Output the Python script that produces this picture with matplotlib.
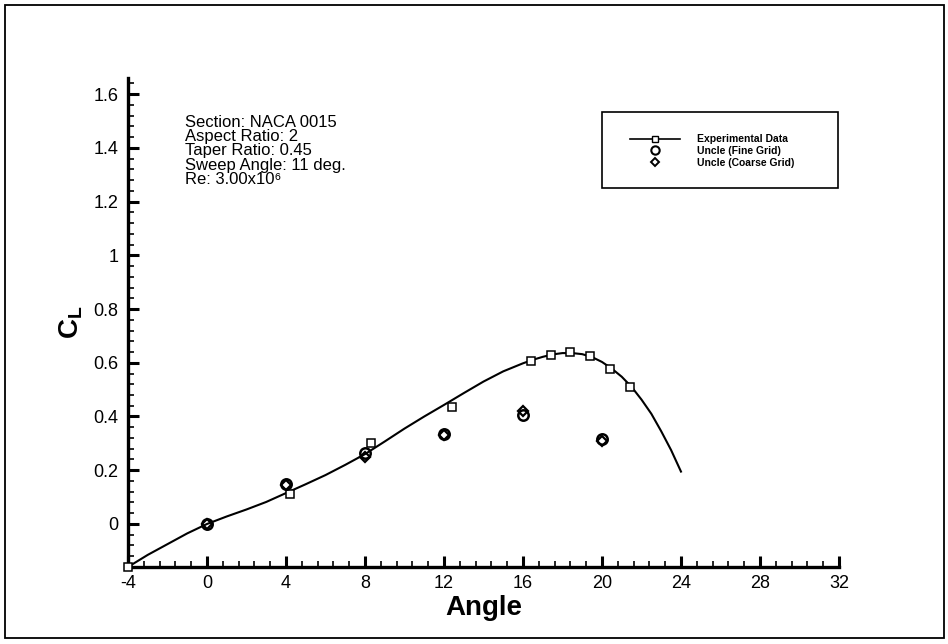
import numpy as np
import matplotlib.pyplot as plt
from matplotlib.patches import Rectangle
from matplotlib.ticker import MultipleLocator

plt.rcParams['font.family'] = ['Liberation Sans', 'DejaVu Sans']
plt.rcParams['mathtext.fontset'] = 'custom'
plt.rcParams['mathtext.rm'] = 'Liberation Sans'
plt.rcParams['mathtext.bf'] = 'Liberation Sans:bold'
plt.rcParams['axes.unicode_minus'] = False

# experimental points
exp_angle = [-4, 4.2, 8.3, 12.4, 16.4, 17.4, 18.4, 19.4, 20.4, 21.4]
exp_cl = [-0.16, 0.11, 0.30, 0.435, 0.605, 0.63, 0.64, 0.625, 0.575, 0.51]

# curve fit through the experiment
fit_angle = [-4, -3, -2, -1, 0, 1, 2, 3, 4, 5, 6, 7, 8, 9, 10, 11, 12,
             13, 14, 15, 16, 16.5, 17, 17.5, 18, 18.5, 19, 19.5, 20, 20.5,
             21, 21.5, 22, 22.5, 23, 23.5, 24]
fit_cl = [-0.16, -0.115, -0.075, -0.035, 0.0, 0.028, 0.054, 0.082, 0.115,
          0.148, 0.182, 0.22, 0.26, 0.307, 0.355, 0.40, 0.443, 0.487, 0.53,
          0.568, 0.598, 0.611, 0.622, 0.631, 0.636, 0.636, 0.632, 0.621,
          0.603, 0.578, 0.548, 0.51, 0.463, 0.41, 0.345, 0.275, 0.195]

# Uncle runs
cfd_angle = [0, 4, 8, 12, 16, 20]
fine_cl = [0.0, 0.15, 0.265, 0.335, 0.405, 0.315]
coarse_cl = [0.0, 0.145, 0.25, 0.33, 0.42, 0.31]

info_lines = ['Section: NACA 0015', 'Aspect Ratio: 2', 'Taper Ratio: 0.45',
              'Sweep Angle: 11 deg.', 'Re: 3.00x10\u2076']

fig = plt.figure(figsize=(9.48, 6.44), dpi=100)
ax = fig.add_axes([0.135, 0.1196, 0.75, 0.7594])

ax.plot(fit_angle, fit_cl, color='black', lw=1.5, clip_on=False, zorder=3)
ax.plot(exp_angle, exp_cl, ls='none', marker='s', ms=6, mfc='white',
        mec='black', mew=1.1, clip_on=False, zorder=4)
ax.plot(cfd_angle, fine_cl, ls='none', marker='o', ms=7.5, mfc='none',
        mec='black', mew=1.8, zorder=5)
ax.plot(cfd_angle, coarse_cl, ls='none', marker='D', ms=5.5, mfc='none',
        mec='black', mew=1.6, zorder=5)

ax.set_xlim(-4, 32)
ax.set_ylim(-0.16, 1.66)
ax.xaxis.set_major_locator(MultipleLocator(4))
ax.xaxis.set_minor_locator(MultipleLocator(0.8))
ax.set_yticks(np.arange(0, 1.61, 0.2))
ax.set_yticklabels(['0', '0.2', '0.4', '0.6', '0.8', '1', '1.2', '1.4', '1.6'])
ax.yaxis.set_minor_locator(MultipleLocator(0.04))

for s in ['top', 'right']:
    ax.spines[s].set_visible(False)
for s in ['left', 'bottom']:
    ax.spines[s].set_linewidth(2.4)

ax.tick_params(which='major', direction='in', length=8, width=2.2,
               labelsize=13)
ax.tick_params(which='minor', direction='in', length=4.5, width=1.2)
ax.tick_params(axis='x', which='major', pad=6)
ax.tick_params(axis='y', which='major', pad=7)

ax.set_xlabel('Angle', fontsize=20, fontweight='bold', labelpad=2)
ax.set_ylabel(r'$\mathbf{C_L}$', fontsize=20, labelpad=6)

# case description, one line at a time
for i, line in enumerate(info_lines):
    fig.text(185 / 948, 1 - (121 + 14.2 * i) / 644, line,
             fontsize=12, va='center_baseline', ha='left')

# legend box
fig.patches.append(Rectangle((602 / 948, 1 - 188 / 644), 236 / 948, 76 / 644,
                             transform=fig.transFigure, fill=False,
                             ec='black', lw=1.2))
h1, = ax.plot([], [], color='black', lw=1.2, marker='s', ms=5, mfc='white',
              mec='black', mew=1)
h2, = ax.plot([], [], ls='none', marker='o', ms=6, mfc='none', mec='black',
              mew=1.5)
h3, = ax.plot([], [], ls='none', marker='D', ms=4.5, mfc='none', mec='black',
              mew=1.4)
fig.legend([h1, h2, h3],
           ['Experimental Data', 'Uncle (Fine Grid)', 'Uncle (Coarse Grid)'],
           loc='center left', bbox_to_anchor=(625 / 948, 1 - 151 / 644),
           bbox_transform=fig.transFigure, frameon=False, borderpad=0,
           handlelength=4.8, handletextpad=1.6, labelspacing=0.15,
           prop={'size': 7.5, 'weight': 'bold'})

# outer frame
fig.patches.append(Rectangle((5 / 948, 6 / 644), 939 / 948, 633 / 644,
                             transform=fig.transFigure, fill=False,
                             ec='black', lw=1.3))

fig.savefig('out.png', dpi=100)
